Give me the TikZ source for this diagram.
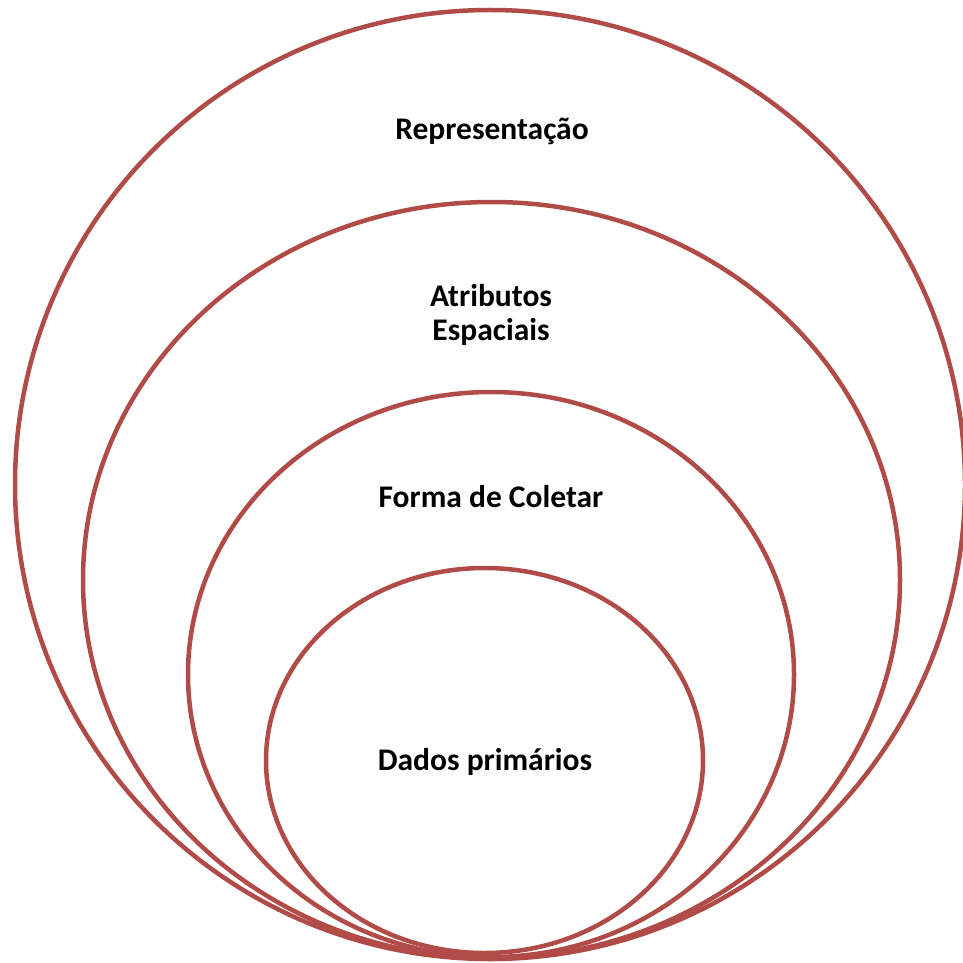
\documentclass[tikz,border=0pt]{standalone}
\usepackage{fontspec}
\setmainfont{Carlito}
\usepackage{tikz}
\definecolor{ringred}{RGB}{177,75,71}

\begin{document}
\begin{tikzpicture} [x=1pt, y=-1pt, ring/.style={draw=ringred, line width=4.5pt}, lbl/.style={font=\bfseries\fontsize{31.5}{34}\selectfont, align=center, inner sep=0pt}]
\useasboundingbox (0,0) rectangle (963,963);
\draw[ring] (490,484.5) ellipse (475 and 474.5);
\draw[ring] (491.5,580) ellipse (408.5 and 378);
\draw[ring] (491,674.5) ellipse (303 and 282.5);
\draw[ring] (484.5,760.5) ellipse (218.5 and 192.5);
\node[lbl](r) at (492,131){Representação};
\node[lbl](a) at (491,315){Atributos\\Espaciais};
\node[lbl](f) at (491,497){Forma de Coletar};
\node[lbl](d) at (485,762){Dados primários};
\end{tikzpicture}
\end{document}
